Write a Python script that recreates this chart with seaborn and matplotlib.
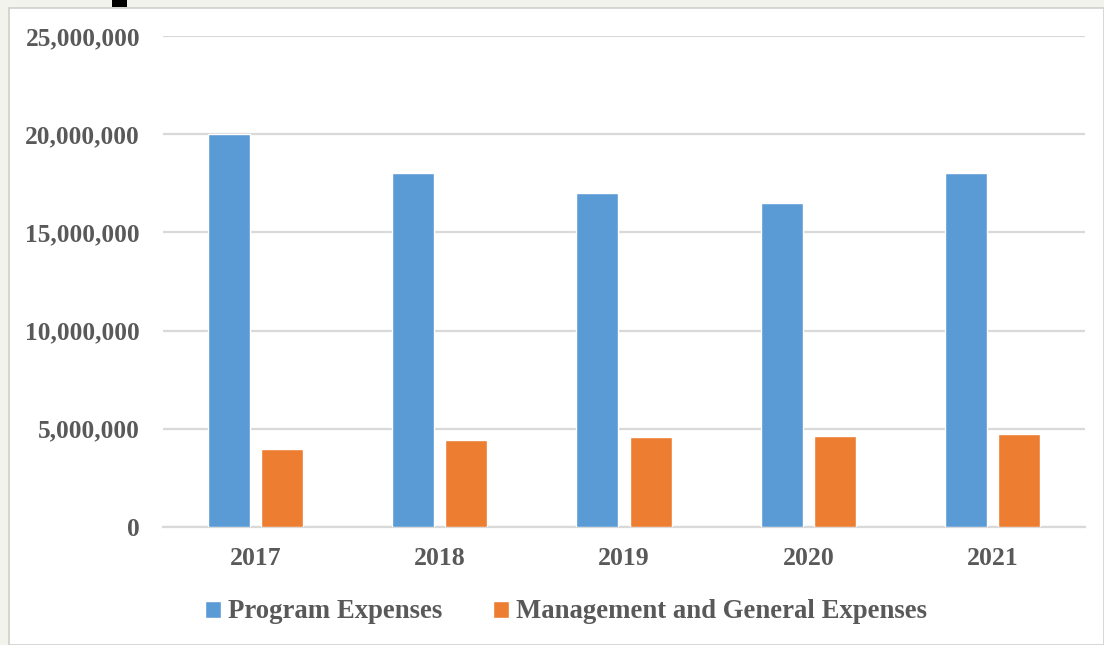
import pandas as pd
import matplotlib
matplotlib.use('Agg')
import matplotlib.pyplot as plt
import seaborn as sns
from matplotlib.patches import Rectangle
from matplotlib.ticker import FuncFormatter

# Chart data
years = ['2017', '2018', '2019', '2020', '2021']
program_expenses = [20000000, 18000000, 17000000, 16500000, 18000000]
management_expenses = [3950000, 4450000, 4570000, 4650000, 4750000]
series_names = ['Program Expenses', 'Management and General Expenses']
colors = ['#5B9BD5', '#ED7D31']

df = pd.DataFrame({
    'Year': years * 2,
    'Value': program_expenses + management_expenses,
    'Series': [series_names[0]] * len(years) + [series_names[1]] * len(years),
})

sns.set_style('white')
plt.rcParams['font.family'] = ['Liberation Serif', 'DejaVu Serif']

text_color = '#595959'
grid_color = '#d9d9d9'

fig = plt.figure(figsize=(11.04, 6.45), dpi=100)
fig.patch.set_facecolor('#f3f3ee')

# white chart area with thin border, like the screenshot
W, H = 1104, 645
fig.patches.append(Rectangle((9 / W, 0), 1 - 9 / W, 1 - 8 / H, transform=fig.transFigure,
                             facecolor='white', edgecolor='#cfcfcb', linewidth=1.2, zorder=-2))
fig.patches.append(Rectangle((112 / W, 1 - 7 / H), 15 / W, 7 / H, transform=fig.transFigure,
                             facecolor='black', edgecolor='none', zorder=-1))

ax = fig.add_axes([163 / W, 1 - 527 / H, (1085 - 163) / W, (527 - 36) / H])
ax.set_facecolor('none')

sns.barplot(data=df, x='Year', y='Value', hue='Series', palette=colors,
            width=0.576, gap=0.21, saturation=1, ax=ax, legend=False, zorder=3)

ax.set_xlim(-0.5, 4.5)
ax.set_ylim(0, 25000000)
ax.set_yticks(range(0, 25000001, 5000000))
ax.yaxis.set_major_formatter(FuncFormatter(lambda v, p: f'{int(v):,}'))
ax.grid(axis='y', color=grid_color, linewidth=1.6, zorder=0)
ax.set_axisbelow(True)
for s in ['top', 'right', 'left']:
    ax.spines[s].set_visible(False)
ax.spines['bottom'].set_color(grid_color)
ax.spines['bottom'].set_linewidth(1.6)
ax.set_xlabel('')
ax.set_ylabel('')
ax.tick_params(axis='y', length=0, pad=16.5, labelsize=18.3, labelcolor=text_color)
ax.tick_params(axis='x', length=0, pad=14.5, labelsize=18.5, labelcolor=text_color)
for lbl in ax.get_xticklabels() + ax.get_yticklabels():
    lbl.set_fontweight('bold')

handles = [Rectangle((0, 0), 1, 1, facecolor=c) for c in colors]
fig.legend(handles, series_names, loc='center', bbox_to_anchor=(566 / W, 1 - 612 / H),
           ncol=2, frameon=False, handlelength=0.6, handleheight=0.6,
           handletextpad=0.25, columnspacing=1.9,
           prop={'size': 19.3, 'weight': 'bold'}, labelcolor=text_color)

fig.savefig('out.png', dpi=100, facecolor=fig.get_facecolor())
